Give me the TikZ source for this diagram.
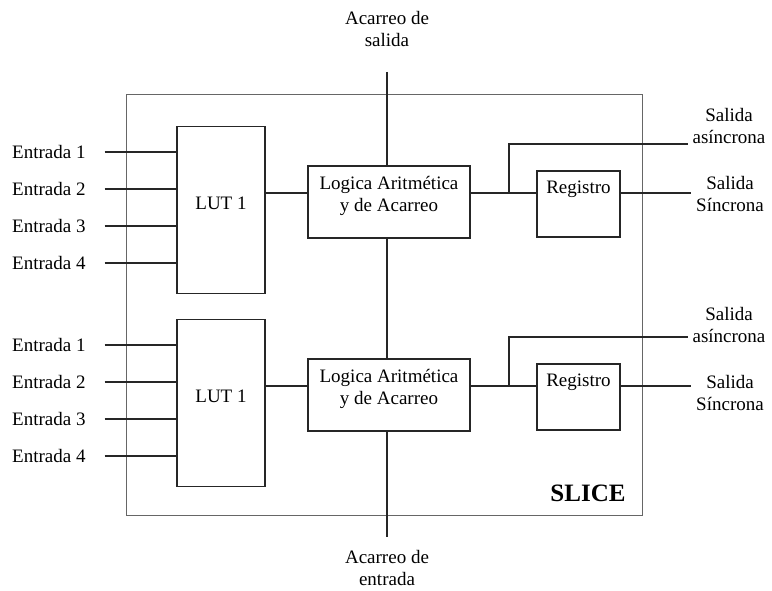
\documentclass[tikz,border=0pt]{standalone}
\usepackage{fontspec}
\setmainfont{Liberation Serif}
\usetikzlibrary{positioning,calc}
\tikzset{
  wire/.style={line width=1.3pt,draw=black!85},
  blk/.style={draw=black!85,line width=1.3pt,fill=white,inner sep=0pt},
  frame/.style={draw=black!60,line width=1.1pt,inner sep=0pt},
  lbl/.style={inner sep=0pt,align=center,font=\fontsize{19}{22}\selectfont},
  outlbl/.style={lbl,outer xsep=5pt},
}
\begin{document}
\begin{tikzpicture}[x=1pt,y=-1pt]
  \useasboundingbox (0,0) rectangle (772,591);

  % ---- slice frame ----
  \node[frame,minimum width=516,minimum height=421,anchor=north west] (slice) at (126,94) {};
  \node[lbl,font=\fontsize{25}{30}\selectfont\bfseries] (slicename) at (588,493) {SLICE};

  % ---- carry chain ----
  \node[lbl] (cout) at (387,29) {Acarreo de\\salida};
  \node[lbl] (cin) at (387,568) {Acarreo de\\entrada};
  \coordinate (ctop) at (387,72);
  \coordinate (cbot) at (387,537);

  % ---- the two halves of the slice ----
  \foreach \s/\dy/\dl in {0/0/0,1/193/199} {
    \node[blk,minimum width=88,minimum height=167] (lut\s) at (221,210+\dy) {};
    \node[lbl] at ($(lut\s.center)+(0,-7)$) {LUT 1};
    \node[blk,minimum width=162,minimum height=72] (log\s) at (389,202+\dy) {};
    \node[lbl] at ($(log\s.center)+(0,-6)$) {Logica Aritmética\\y de Acarreo};
    \node[blk,minimum width=83,minimum height=66] (reg\s) at (578.5,204+\dy) {};
    \node[lbl] at ($(reg\s.center)+(0,-15)$) {Registro};
    \node[outlbl] (asal\s) at (729,126+\dl) {Salida\\asíncrona};
    \node[outlbl] (ssal\s) at (730,194+\dl) {Salida\\Síncrona};
    \coordinate (bus\s) at (0,193+\dy);
    \coordinate (tap\s) at (509,193+\dy);
    \coordinate (hi\s) at (509,144+\dy);
    % inputs
    \foreach \i/\y in {1/152,2/189,3/226,4/263} {
      \node[lbl,anchor=west] (in\s\i) at (12,\y+\dy) {Entrada \i};
      \draw[wire] ([xshift=19pt]in\s\i.east) -- (in\s\i.east -| lut\s.west);
    }
    \draw[wire] (lut\s.east |- bus\s) -- (log\s.west |- bus\s);
    \draw[wire] (log\s.east |- bus\s) -- (reg\s.west |- bus\s);
    \draw[wire] (tap\s) -- (hi\s) -- (hi\s -| asal\s.west);
    \draw[wire] (reg\s.east |- bus\s) -- (bus\s -| ssal\s.west);
  }

  \draw[wire] (ctop) -- (ctop |- log0.north);
  \draw[wire] (ctop |- log0.south) -- (ctop |- log1.north);
  \draw[wire] (ctop |- log1.south) -- (cbot);
\end{tikzpicture}
\end{document}
